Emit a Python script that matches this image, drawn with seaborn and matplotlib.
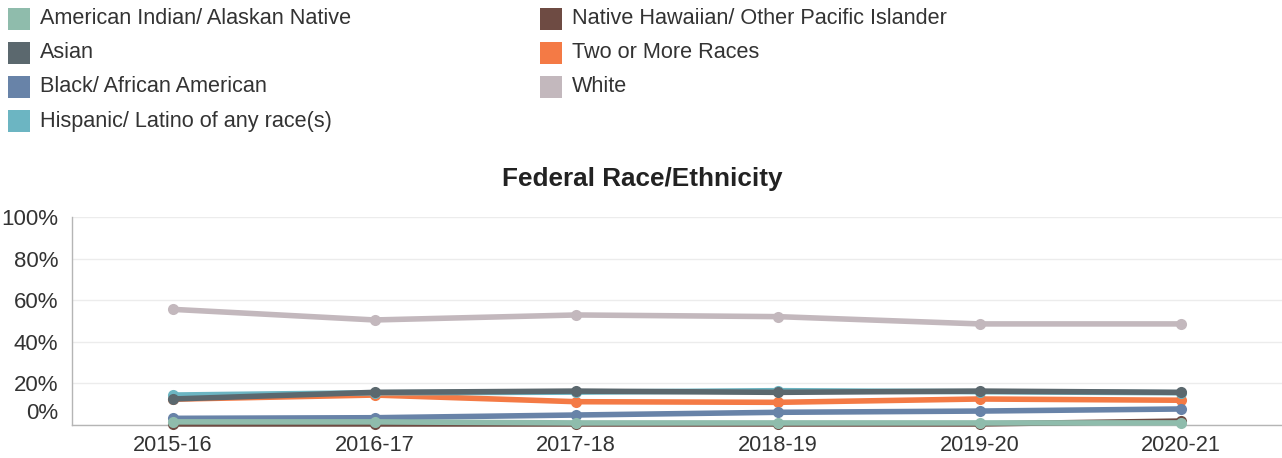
import matplotlib
matplotlib.use("Agg")
import matplotlib.pyplot as plt
from matplotlib.patches import Rectangle
from matplotlib.transforms import ScaledTranslation
import seaborn as sns
import pandas as pd

years = ["2015-16", "2016-17", "2017-18", "2018-19", "2019-20", "2020-21"]
groups = [
    "American Indian/ Alaskan Native",
    "Asian",
    "Black/ African American",
    "Hispanic/ Latino of any race(s)",
    "Native Hawaiian/ Other Pacific Islander",
    "Two or More Races",
    "White",
]
american_indian = [1.5, 1.5, 1.0, 1.0, 1.0, 1.0]
asian = [12.5, 15.7, 16.3, 15.7, 16.3, 15.7]
black = [3.2, 3.5, 4.8, 6.1, 6.7, 7.7]
hispanic = [14.4, 15.5, 15.8, 16.5, 16.0, 15.5]
native_hawaiian = [0.5, 0.5, 0.5, 0.5, 0.5, 1.9]
two_or_more = [12.4, 14.4, 11.2, 10.9, 12.5, 11.9]
white = [55.6, 50.5, 52.9, 52.1, 48.6, 48.6]
y_ticks = [0, 20, 40, 60, 80, 100]

colors = ["#8fbcac", "#5b686e", "#6883a8", "#6cb5c2", "#6e4b43", "#f47a45", "#c3b8bd"]
series = [american_indian, asian, black, hispanic, native_hawaiian, two_or_more, white]

rows = []
for g, vals in zip(groups, series):
    for i, (yr, v) in enumerate(zip(years, vals)):
        rows.append({"year": yr, "pos": i, "group": g, "value": v})
df = pd.DataFrame(rows)

sns.set_theme(style="white")
plt.rcParams["font.family"] = ["Liberation Sans", "DejaVu Sans"]

fig = plt.figure(figsize=(12.82, 4.58), dpi=100)
W, H = 1282, 458
ax = fig.add_axes([72 / W, 1 - 425 / H, (1282 - 72) / W, (425 - 217) / H])

# earlier series are stacked on top of later ones
for k, g in enumerate(groups):
    sub = df[df["group"] == g]
    sns.lineplot(data=sub, x="pos", y="value", ax=ax, color=colors[k],
                 linewidth=4, marker="o", markersize=8,
                 markeredgewidth=0, legend=False, zorder=20 - k, clip_on=False)

ax.set_xlim(-0.5, 5.5)
ax.set_ylim(0, 100)
ax.set_xticks(range(len(years)))
ax.set_xticklabels(years, fontsize=15.7, color="#333333")
ax.set_yticks(y_ticks)
ax.set_yticklabels([f"{t}%" for t in y_ticks], fontsize=16, color="#333333")
ax.tick_params(axis="x", length=0, pad=7)
ax.tick_params(axis="y", length=0, pad=10)
ax.set_xlabel("")
ax.set_ylabel("")
ax.grid(axis="y", color="#ececec", linewidth=1)
for s in ["top", "right"]:
    ax.spines[s].set_visible(False)
for s in ["left", "bottom"]:
    ax.spines[s].set_color("#b5b5b5")
    ax.spines[s].set_linewidth(1)

# lift the 0% label off the baseline
zero_label = ax.get_yticklabels()[0]
zero_label.set_transform(zero_label.get_transform() + ScaledTranslation(0, 14 / 100, fig.dpi_scale_trans))

fig.text(642 / W, 1 - 179 / H, "Federal Race/Ethnicity", ha="center", va="center",
         fontsize=18.8, fontweight="bold", color="#222222")

# legend: two columns of colored squares with labels
legend_pos = [(8, 19), (8, 53), (8, 87), (8, 121), (540, 19), (540, 53), (540, 87)]
for (lx, ly), g, c in zip(legend_pos, groups, colors):
    fig.patches.append(Rectangle((lx / W, 1 - (ly + 11) / H), 22 / W, 22 / H,
                                 transform=fig.transFigure, facecolor=c,
                                 edgecolor="none"))
    fig.text((lx + 32) / W, 1 - ly / H, g, ha="left", va="center",
             fontsize=15.6, color="#333333")

fig.savefig("out.png", dpi=100)
